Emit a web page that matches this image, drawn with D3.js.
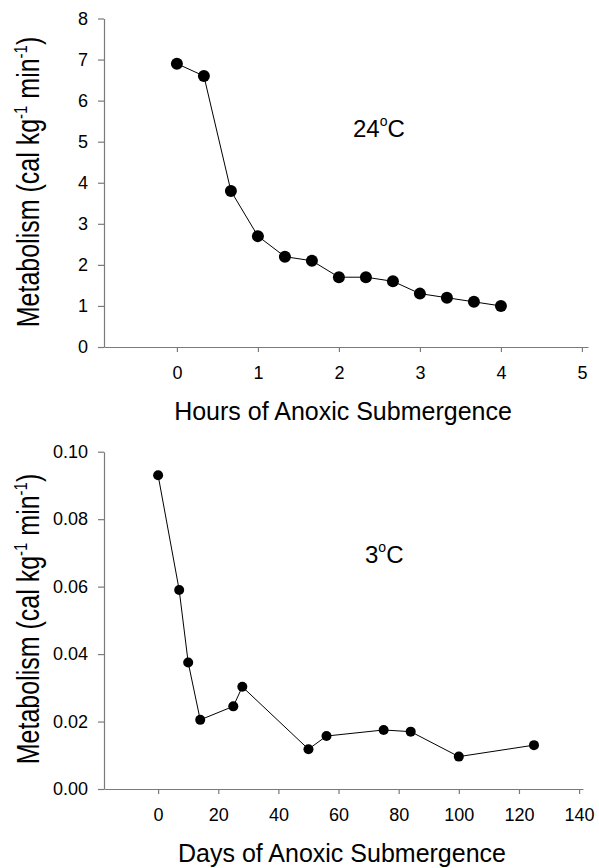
<!DOCTYPE html>
<html>
<head>
<meta charset="utf-8">
<script src="https://cdn.jsdelivr.net/npm/d3@7"></script>
<style>
  html, body { margin: 0; padding: 0; background: #fff; }
  svg { display: block; }
  text { font-family: "Liberation Sans", Arial, Helvetica, sans-serif; fill: #000; }
</style>
</head>
<body>
<svg id="chart" width="599" height="868"></svg>
<script>
// ---- Data ----
const hours = [0, 1/3, 2/3, 1, 4/3, 5/3, 2, 7/3, 8/3, 3, 10/3, 11/3, 4];
const metab24 = [6.9, 6.6, 3.8, 2.7, 2.2, 2.1, 1.7, 1.7, 1.6, 1.3, 1.2, 1.1, 1.0];
const days = [0, 7, 10, 14, 25, 28, 50, 56, 75, 84, 100, 125];
const metab3 = [0.093, 0.059, 0.0375, 0.0205, 0.0245, 0.0303, 0.0118, 0.0157, 0.0175, 0.0170, 0.0096, 0.0130];
const topXTicks = [0, 1, 2, 3, 4, 5];
const topYTicks = [0, 1, 2, 3, 4, 5, 6, 7, 8];
const botXTicks = [0, 20, 40, 60, 80, 100, 120, 140];
const botYTicks = [0, 0.02, 0.04, 0.06, 0.08, 0.10];

const svg = d3.select("#chart");
const axisColor = "#7a7a7a";

function panel(cfg) {
  const g = svg.append("g");
  const x = d3.scaleLinear().domain(cfg.xDomain).range([cfg.left, cfg.right]);
  const y = d3.scaleLinear().domain(cfg.yDomain).range([cfg.bottom, cfg.top]);

  const xAxis = g.append("g")
    .attr("transform", `translate(0,${cfg.bottom})`)
    .call(d3.axisBottom(x).tickValues(cfg.xTicks).tickSizeInner(5).tickSizeOuter(0).tickPadding(14)
      .tickFormat(d3.format("d")));
  const yAxis = g.append("g")
    .attr("transform", `translate(${cfg.left},0)`)
    .call(d3.axisLeft(y).tickValues(cfg.yTicks).tickSizeInner(6).tickSizeOuter(0).tickPadding(10)
      .tickFormat(cfg.yFormat));
  [xAxis, yAxis].forEach(a => {
    a.select(".domain").attr("stroke", axisColor).attr("stroke-width", 1.2);
    a.selectAll(".tick line").attr("stroke", axisColor).attr("stroke-width", 1.2);
    a.selectAll(".tick text").attr("font-size", 18).attr("fill", "#000")
      .attr("font-family", "Liberation Sans, Arial, sans-serif");
  });

  const pts = cfg.xs.map((d, i) => [d, cfg.ys[i]]);
  g.append("path")
    .datum(pts)
    .attr("fill", "none")
    .attr("stroke", "#000")
    .attr("stroke-width", 1)
    .attr("d", d3.line().x(d => x(d[0])).y(d => y(d[1])));
  g.selectAll("circle.pt").data(pts).enter().append("circle")
    .attr("class", "pt")
    .attr("cx", d => x(d[0])).attr("cy", d => y(d[1]))
    .attr("r", cfg.r).attr("fill", "#000");

  // x title
  g.append("text")
    .attr("x", cfg.xTitleX).attr("y", cfg.xTitleY)
    .attr("text-anchor", "middle").attr("font-size", 25)
    .text(cfg.xTitle);

  // y title
  const yt = g.append("text")
    .attr("transform", `translate(${cfg.yTitleX},${cfg.yTitleY}) scale(1.25,1) rotate(-90)`)
    .attr("text-anchor", "middle").attr("font-size", 25);
  yt.append("tspan").text("Metabolism (cal kg");
  yt.append("tspan").attr("font-size", 15).attr("dy", -10).text("-1");
  yt.append("tspan").attr("dy", 10).text(" min");
  yt.append("tspan").attr("font-size", 15).attr("dy", -10).text("-1");
  yt.append("tspan").attr("dy", 10).text(")");

  // temperature label
  const tl = g.append("text")
    .attr("x", cfg.tempX).attr("y", cfg.tempY)
    .attr("font-size", 24);
  tl.append("tspan").text(cfg.tempNum);
  tl.append("tspan").attr("font-size", 14).attr("dy", -11).text("o");
  tl.append("tspan").attr("dy", 11).text("C");
}

panel({
  xs: hours, ys: metab24,
  xDomain: [-0.9, 5.075], yDomain: [0, 8],
  left: 104, right: 588, top: 18.5, bottom: 347,
  xTicks: topXTicks, yTicks: topYTicks, yFormat: d3.format("d"),
  r: 6,
  xTitle: "Hours of Anoxic Submergence", xTitleX: 343, xTitleY: 420,
  yTitleX: 39, yTitleY: 182,
  tempNum: "24", tempX: 353, tempY: 137
});

panel({
  xs: days, ys: metab3,
  xDomain: [-18, 141.3], yDomain: [0, 0.10],
  left: 104, right: 583, top: 451.7, bottom: 789,
  xTicks: botXTicks, yTicks: botYTicks, yFormat: d3.format(".2f"),
  r: 5,
  xTitle: "Days of Anoxic Submergence", xTitleX: 342, xTitleY: 862,
  yTitleX: 39, yTitleY: 619,
  tempNum: "3", tempX: 365, tempY: 563
});
</script>
</body>
</html>
